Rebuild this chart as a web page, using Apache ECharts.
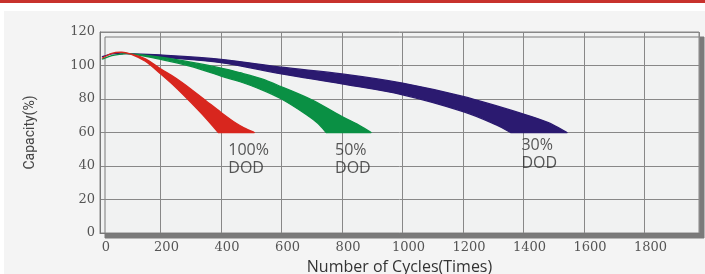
<!DOCTYPE html>
<html>
<head>
<meta charset="utf-8">
<script src="https://cdn.jsdelivr.net/npm/echarts@6/dist/echarts.min.js"></script>
<style>
  html, body { margin: 0; padding: 0; background: #fff; }
  .topbar { position: absolute; left: 0; top: 0; width: 705px; height: 3px; background: #c8322d; }
  .chart { position: absolute; left: 4px; top: 11px; width: 701px; height: 263px; background: #f4f4f4; }
</style>
</head>
<body>
<div class="topbar"></div>
<div class="chart" id="chart"></div>
<script>
// axis ticks
var xTicks = [0, 200, 400, 600, 800, 1000, 1200, 1400, 1600, 1800];
var yTicks = [0, 20, 40, 60, 80, 100, 120];

// each band = right edge (upper) going out, left edge (lower) coming back
var redUpper = [[8, 104.5], [39, 107.3], [72, 107.9], [100, 107], [150, 104], [200, 98], [250, 92.5], [300, 86], [350, 79], [400, 72], [450, 65.5], [480, 62.5], [510, 60]];
var redLower = [[8, 104.5], [39, 107.3], [72, 107.9], [100, 107], [150, 102.5], [200, 95], [250, 87], [300, 78], [350, 68.5], [391, 60]];

var greenUpper = [[8, 103.9], [39, 105.9], [70, 106.8], [100, 107], [200, 105], [300, 102], [400, 98.5], [463, 95.7], [535, 92], [600, 87.3], [700, 79.5], [800, 69.5], [850, 65], [896, 60]];
var greenLower = [[8, 103.9], [39, 105.9], [70, 106.8], [100, 107], [200, 103.7], [300, 99.5], [400, 93.7], [463, 90.3], [535, 85.5], [600, 80], [684, 70.5], [720, 65.5], [748, 60]];

var blueUpper = [[8, 105.3], [39, 106.9], [70, 107], [100, 107], [200, 106.3], [400, 103.7], [600, 99], [800, 95], [1000, 89.5], [1200, 81.5], [1400, 71], [1480, 66], [1544, 60]];
var blueLower = [[8, 105.3], [39, 106.9], [70, 107], [100, 107], [200, 105], [400, 101.7], [600, 95], [800, 89], [1000, 82.5], [1200, 72.5], [1310, 64.5], [1357, 60]];

// DOD captions (top-left corner of each text block)
var noteX = [424, 777, 1393];
var noteY = [54.9, 54.9, 57.9];
var noteText = ['100%\nDOD', '50%\nDOD', '30%\nDOD'];

// smooth path through pixel points (catmull-rom -> bezier)
function curveTo(pts) {
  var d = '';
  for (var i = 0; i < pts.length - 1; i++) {
    var p0 = pts[i - 1] || pts[i], p1 = pts[i], p2 = pts[i + 1], p3 = pts[i + 2] || pts[i + 1];
    var c1x = p1[0] + (p2[0] - p0[0]) / 6, c1y = p1[1] + (p2[1] - p0[1]) / 6;
    var c2x = p2[0] - (p3[0] - p1[0]) / 6, c2y = p2[1] - (p3[1] - p1[1]) / 6;
    d += ' C' + c1x + ' ' + c1y + ' ' + c2x + ' ' + c2y + ' ' + p2[0] + ' ' + p2[1];
  }
  return d;
}

function bandSeries(name, upper, lower, color) {
  return {
    name: name,
    type: 'custom',
    coordinateSystem: 'cartesian2d',
    silent: true,
    data: upper.concat(lower.slice().reverse()),
    renderItem: function (params, api) {
      if (params.dataIndex !== 0) return null;
      var up = upper.map(function (p) { return api.coord(p); });
      var low = lower.slice().reverse().map(function (p) { return api.coord(p); });
      var d = 'M' + up[0][0] + ' ' + up[0][1] + curveTo(up) +
        ' L' + low[0][0] + ' ' + low[0][1] + curveTo(low) + ' Z';
      return {
        type: 'path',
        shape: { pathData: d },
        style: { fill: color, stroke: color, lineWidth: 1.3, lineJoin: 'round' }
      };
    }
  };
}

var chart = echarts.init(document.getElementById('chart'));
chart.setOption({
  animation: false,
  grid: {
    left: 96, right: 6, top: 21, bottom: 41,
    outerBoundsMode: 'none',
    show: true,
    backgroundColor: '#f1f2f2',
    borderColor: '#868686',
    borderWidth: 1,
    shadowColor: '#7a7a7a',
    shadowBlur: 0,
    shadowOffsetX: 5,
    shadowOffsetY: 5
  },
  xAxis: {
    type: 'value',
    min: 0, max: 1980, interval: 200,
    name: 'Number of Cycles(Times)',
    nameLocation: 'middle',
    nameGap: 26,
    nameTextStyle: { fontFamily: 'Open Sans', fontSize: 16, color: '#333' },
    axisLine: { show: true, lineStyle: { color: '#777', width: 1 } },
    axisTick: { show: false },
    axisLabel: {
      margin: 8, showMaxLabel: false,
      fontFamily: 'DejaVu Serif', fontSize: 13, color: '#555',
      padding: [0, 0, 0, 12],
      formatter: function (v) { return xTicks.indexOf(v) >= 0 ? String(v) : ''; }
    },
    splitLine: { show: true, lineStyle: { color: '#888', width: 1 } }
  },
  yAxis: {
    type: 'value',
    min: 0, max: 120, interval: 20,
    name: 'Capacity(%)',
    nameLocation: 'middle',
    nameGap: 63,
    nameTextStyle: { fontFamily: 'Roboto', fontSize: 14, color: '#444' },
    axisLine: { show: true, lineStyle: { color: '#777', width: 1 } },
    axisTick: { show: false },
    axisLabel: {
      margin: 5,
      fontFamily: 'DejaVu Serif', fontSize: 13, color: '#555',
      padding: [5, 0, 0, 0],
      formatter: function (v) { return yTicks.indexOf(v) >= 0 ? String(v) : ''; }
    },
    splitLine: { show: true, lineStyle: { color: '#888', width: 1 } }
  },
  series: [
    bandSeries('30% DOD', blueUpper, blueLower, '#2b1a70'),
    bandSeries('50% DOD', greenUpper, greenLower, '#0a9044'),
    bandSeries('100% DOD', redUpper, redLower, '#d8261e'),
    {
      type: 'scatter',
      silent: true,
      symbolSize: 0,
      data: noteX.map(function (x, i) { return [x, noteY[i]]; }),
      label: {
        show: true,
        position: [0, 0],
        align: 'left',
        verticalAlign: 'top',
        fontFamily: 'Open Sans',
        fontSize: 16,
        lineHeight: 18,
        color: '#2e2e2e',
        formatter: function (p) { return noteText[p.dataIndex]; }
      }
    }
  ]
});
</script>
</body>
</html>
